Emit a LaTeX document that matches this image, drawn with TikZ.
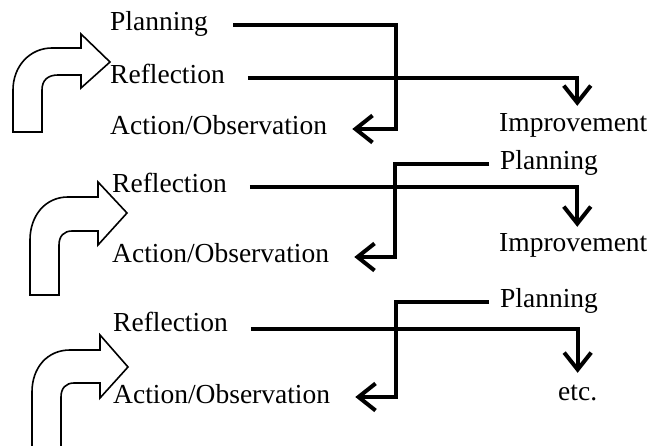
\documentclass[tikz,border=0pt]{standalone}
\usepackage{fontspec}
\setmainfont{Liberation Serif}
\usetikzlibrary{arrows.meta}
\tikzset{
  lbl/.style={inner sep=0pt, anchor=base west, text height=18pt, text depth=6pt,
    font=\fontsize{27.5}{32}\selectfont},
  conn/.style={line width=4pt, miter limit=10,
    -{Straight Barb[length=17pt,width=27pt]}},
  bigarrow/.style={draw=black, line width=1.6pt, fill=white, line join=miter}
}
\begin{document}
\begin{tikzpicture}[x=1pt,y=-1pt]
\useasboundingbox (0,0) rectangle (651,446);
\clip (0,0) rectangle (651,446);
% block arrows
\path[bigarrow] (13,132) -- (13,90) .. controls (13,66) and (30,48) .. (52,48) -- (81,48) -- (81,34) -- (110,62) -- (81,88) -- (81,75) -- (58,75) .. controls (48,75) and (42,80) .. (42,90) -- (42,132) -- cycle;
\path[bigarrow] (30,295) -- (30,240) .. controls (30,216) and (45,197) .. (68,197) -- (98,197) -- (98,182) -- (127,213) -- (98,245) -- (98,231) -- (72,231) .. controls (64,231) and (59,236) .. (59,245) -- (59,295) -- cycle;
\path[bigarrow] (32,470) -- (32,392) .. controls (32,368) and (47,350) .. (70,350) -- (100,350) -- (100,335) -- (128,367) -- (100,398) -- (100,383) -- (74,383) .. controls (66,383) and (61,388) .. (61,397) -- (61,470) -- cycle;
% block 1
\node[lbl] (P1) at (110,31) {Planning};
\node[lbl] (R1) at (110,84) {Reflection};
\node[lbl] (A1) at (110,135) {Action/Observation};
\node[lbl] (I1) at (499,132) {Improvement};
\coordinate (k1) at (396,80);
\draw[conn] ([xshift=25pt]P1.east) -| (k1) |- ([xshift=25pt]A1.east);
\draw[conn] ([xshift=23pt]R1.east) -| ([xshift=4pt,yshift=8pt]I1.north);
% block 2
\node[lbl] (R2) at (112,193) {Reflection};
\node[lbl] (A2) at (112,263) {Action/Observation};
\node[lbl] (P2) at (500,170) {Planning};
\node[lbl] (I2) at (499,252) {Improvement};
\coordinate (k2) at (395,200);
\draw[conn] ([xshift=23pt]R2.east) -| ([xshift=4pt,yshift=7pt]I2.north);
\draw[conn] ([xshift=-11pt]P2.west) -| (k2) |- ([xshift=25pt]A2.east);
% block 3
\node[lbl] (R3) at (113,332) {Reflection};
\node[lbl] (A3) at (113,403) {Action/Observation};
\node[lbl] (P3) at (500,308) {Planning};
\node[lbl] (E3) at (558,400) {etc.};
\coordinate (k3) at (396,350);
\draw[conn] ([xshift=23pt,yshift=-3pt]R3.east) -| ([yshift=9pt]E3.north);
\draw[conn] ([xshift=-11pt]P3.west) -| (k3) |- ([xshift=25pt]A3.east);
\end{tikzpicture}
\end{document}
